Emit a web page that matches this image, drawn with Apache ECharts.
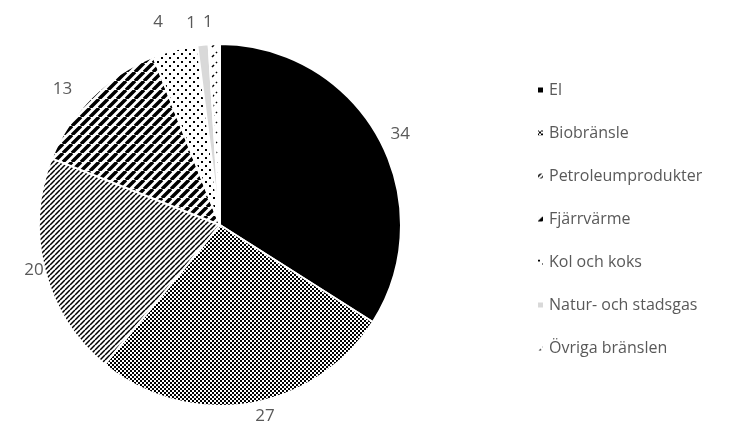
<!DOCTYPE html>
<html><head><meta charset="utf-8">
<script src="https://cdn.jsdelivr.net/npm/echarts@6/dist/echarts.min.js"></script>
<style>html,body{margin:0;padding:0;background:#fff}#c{width:739px;height:427px}</style>
</head><body><div id="c"></div>
<script>
const categories = ["El","Biobränsle","Petroleumprodukter","Fjärrvärme","Kol och koks","Natur- och stadsgas","Övriga bränslen"];
const values = [34,27,20,13,4,1,1];

function tile(w,h,draw){const c=document.createElement('canvas');c.width=w;c.height=h;const x=c.getContext('2d');x.fillStyle='#fff';x.fillRect(0,0,w,h);draw(x,w,h);return {image:c,repeat:'repeat'};}
function stripes(size,width){return tile(size,size,(x,w,h)=>{x.strokeStyle='#000';x.lineWidth=width;x.beginPath();for(const k of [-size,0,size]){x.moveTo(k,size);x.lineTo(k+size,0);}x.stroke();});}
const checker = tile(4,4,(x)=>{x.fillStyle='#000';x.fillRect(0,0,2,2);x.fillRect(2,2,2,2);});
const dots = tile(8,8,(x)=>{x.fillStyle='#000';x.fillRect(1,1,2,2);x.fillRect(5,5,2,2);});
const dashes = tile(10,10,(x)=>{x.strokeStyle='#000';x.lineWidth=1.6;x.beginPath();x.moveTo(2,7);x.lineTo(4,5);x.moveTo(6,3);x.lineTo(7,2);x.stroke();});
const fills = ['#000', checker, stripes(5,1.5), stripes(9,3.5), dots, '#d9d9d9', dashes];
const lineLen = [8,13,0,11,28,22,22];
const labelDist = [5,5,1,12,5,5,1];

const chart = echarts.init(document.getElementById('c'));
chart.setOption({
  animation:false,
  legend:{orient:'vertical',left:531,top:77,itemWidth:7,itemHeight:7,itemGap:27,icon:'rect',
    textStyle:{color:'#595959',fontSize:16,fontFamily:'Open Sans'}},
  series:[{type:'pie',center:[220,225],radius:181,startAngle:90,clockwise:true,avoidLabelOverlap:false,
    itemStyle:{borderColor:'#fff',borderWidth:2},
    label:{show:true,position:'outside',formatter:'{c}',color:'#595959',fontSize:17,fontFamily:'Open Sans'},
    labelLine:{show:false,length:8,length2:0},
    data:categories.map((n,i)=>({name:n,value:values[i],itemStyle:{color:fills[i]},
      labelLine:{show:false,length:lineLen[i],length2:0},label:{distanceToLabelLine:labelDist[i]}}))
  }]
});
</script></body></html>
